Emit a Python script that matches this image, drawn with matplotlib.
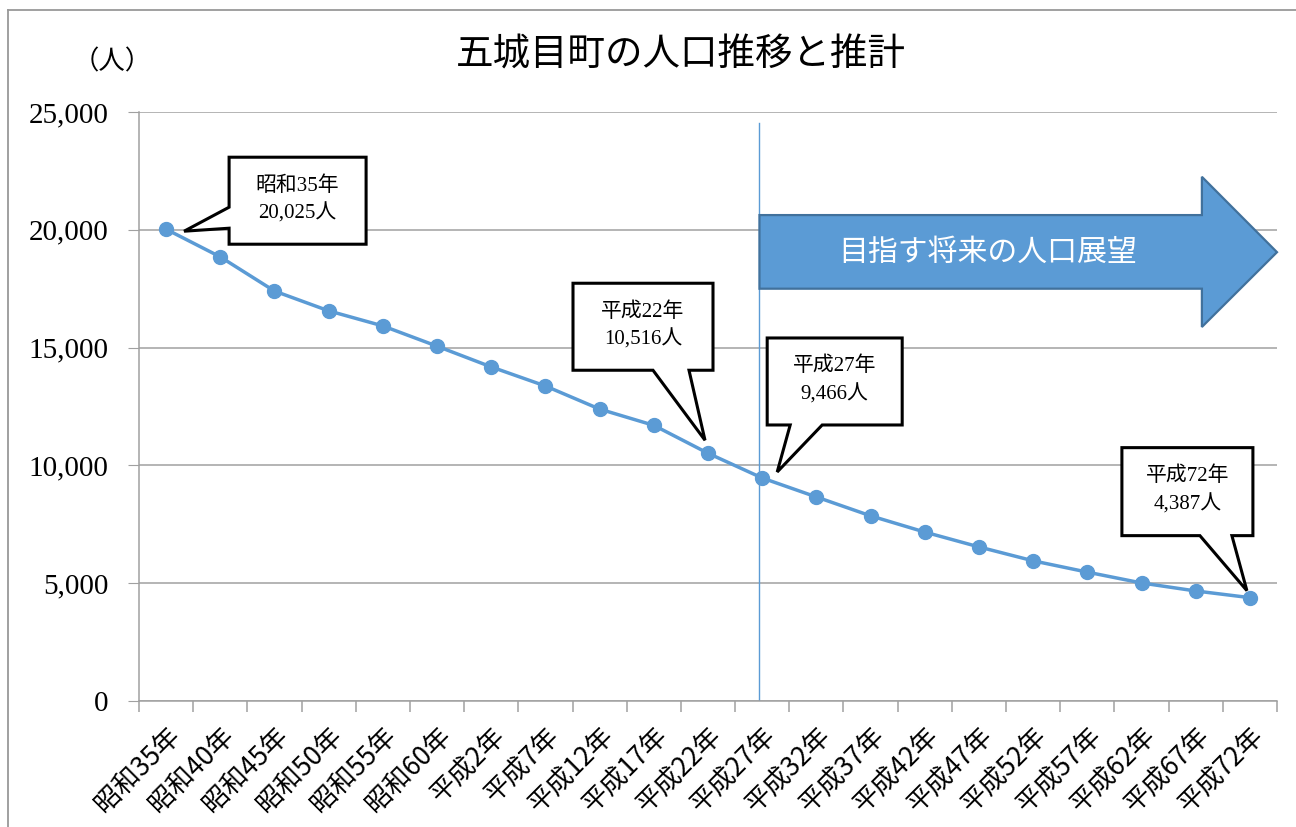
import matplotlib
matplotlib.use("Agg")
import matplotlib.pyplot as plt
import matplotlib.transforms as mtransforms
from matplotlib.patches import Polygon
from matplotlib.lines import Line2D

plt.rcParams['font.family'] = ['Liberation Serif', 'Noto Sans CJK JP']

# data
years = ['昭和35年', '昭和40年', '昭和45年', '昭和50年', '昭和55年', '昭和60年',
         '平成2年', '平成7年', '平成12年', '平成17年', '平成22年', '平成27年',
         '平成32年', '平成37年', '平成42年', '平成47年', '平成52年', '平成57年',
         '平成62年', '平成67年', '平成72年']
population = [20025, 18850, 17400, 16560, 15920, 15060, 14180, 13370, 12390, 11700,
              10516, 9466, 8660, 7860, 7170, 6540, 5950, 5470, 5010, 4670, 4387]
callout_idx = [0, 10, 11, 20]
future_start = 11
arrow_text = '目指す将来の人口展望'
title = '五城目町の人口推移と推計'

blue = '#5B9BD5'
grid_c = '#A0A0A0'

fig = plt.figure(figsize=(12.96, 8.27), dpi=100)
W, H = 1296, 827
ax = fig.add_axes([139 / W, (H - 701) / H, (1277 - 139) / W, (701 - 112) / H])

x = list(range(len(years)))
ax.plot(x, population, color=blue, lw=2.5, marker='o', ms=10, zorder=4, clip_on=False)

ax.set_xlim(-0.5, len(years) - 0.5)
ax.set_ylim(0, 25000)
ax.set_yticks(range(0, 25001, 5000))
ax.set_yticklabels([f'{v:,}' for v in range(0, 25001, 5000)], fontsize=21)
ax.yaxis.grid(True, color=grid_c, lw=1.1)
ax.set_axisbelow(True)
ax.tick_params(axis='y', length=8, color=grid_c, pad=14)

ax.set_xticks(x)
ax.set_xticklabels(years, rotation=45, ha='right', va='top', rotation_mode='anchor',
                   fontsize=19, family=['Noto Sans CJK JP'])
ax.tick_params(axis='x', which='major', length=0, pad=15)
ax.set_xticks([i - 0.5 for i in range(len(years) + 1)], minor=True)
ax.tick_params(axis='x', which='minor', length=8, color=grid_c, width=1.1)

for s in ['top', 'right']:
    ax.spines[s].set_visible(False)
for s in ['left', 'bottom']:
    ax.spines[s].set_color(grid_c)
    ax.spines[s].set_linewidth(1.1)

# separator between actual and projected
ax.axvline(future_start - 0.05, ymin=0, ymax=0.981, color=blue, lw=1, zorder=2)

# big arrow (axes fraction)
x0 = (future_start - 0.05 + 0.5) / len(years)
arrow = Polygon([(x0, 0.825), (0.934, 0.825), (0.934, 0.890), (1.0, 0.762),
                 (0.934, 0.635), (0.934, 0.700), (x0, 0.700)], closed=True,
                transform=ax.transAxes, facecolor=blue, edgecolor='#41719C',
                lw=1.6, zorder=3, clip_on=False)
ax.add_patch(arrow)
ax.text((x0 + 0.934) / 2 + 0.006, 0.762, arrow_text, transform=ax.transAxes,
        ha='center', va='center', color='white', fontsize=21.5,
        family=['Noto Sans CJK JP'], zorder=5)

# callouts: box (left, right, top, bottom) and tail in pixel offsets from the point
shapes = {
    0: dict(box=(63, 200, 72, -15), tail=[(63, 1), (18, -2), (63, 22)], side='left'),
    10: dict(box=(-135, 5, 170, 83), tail=[(-55, 83), (-3, 13), (-19, 83)], side='bottom'),
    11: dict(box=(5, 140, 140, 53), tail=[(28, 53), (15, 6), (60, 53)], side='bottom'),
    20: dict(box=(-128, 3, 150, 62), tail=[(-50, 62), (-3, 7), (-18, 62)], side='bottom'),
}
for i in callout_idx:
    sh = shapes[i]
    l, r, t, b = sh['box']
    trans = mtransforms.ScaledTranslation(i, population[i], ax.transData)
    if sh['side'] == 'left':
        verts = [(l, t), (r, t), (r, b), (l, b)] + sh['tail']
    else:
        verts = [(l, t), (r, t), (r, b), sh['tail'][2], sh['tail'][1], sh['tail'][0], (l, b)]
    poly = Polygon(verts, closed=True, transform=trans, facecolor='white',
                   edgecolor='black', lw=2.2, zorder=6, clip_on=False, joinstyle='miter')
    fig.add_artist(poly)
    label = f'{years[i]}\n{population[i]:,}人'
    fig.text((l + r) / 2, (t + b) / 2 + 1, label, transform=trans, ha='center', va='center',
             fontsize=15, linespacing=1.5, zorder=7)

# title and unit
fig.text(681 / W, 1 - 55 / H, title, ha='center', va='center', fontsize=27,
         family=['Noto Sans CJK JP'])
fig.text(112 / W, 1 - 62 / H, '（人）', ha='center', va='center', fontsize=19,
         family=['Noto Sans CJK JP'])

# outer frame (top and left visible)
fig.add_artist(Line2D([8 / W, 1.0], [1 - 10 / H, 1 - 10 / H], transform=fig.transFigure,
                      color='#999999', lw=1.3))
fig.add_artist(Line2D([8 / W, 8 / W], [0, 1 - 10 / H], transform=fig.transFigure,
                      color='#999999', lw=1.3))

fig.savefig('out.png', dpi=100)
